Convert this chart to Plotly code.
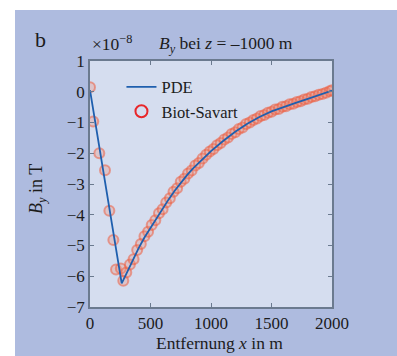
import plotly.graph_objects as go

# ---- data (B_y in units of 1e-8 T) ----
x_pde = [0, 262, 300, 350, 400, 450, 500, 550, 600, 650, 700, 750, 800, 850, 900,
         1000, 1100, 1200, 1300, 1400, 1500, 1600, 1700, 1800, 1900, 2000]
by_pde = [0.05, -6.23, -5.92, -5.5, -5.1, -4.74, -4.42, -4.1, -3.8, -3.5, -3.22, -2.96,
          -2.72, -2.5, -2.3, -1.93, -1.6, -1.3, -1.04, -0.82, -0.64, -0.49, -0.36,
          -0.23, -0.1, 0.04]

x_bs = [0, 27, 77, 124, 160, 193, 215, 255, 275,
        300, 330, 360, 390, 420, 450, 480, 510, 540, 570, 600, 630, 660, 690, 720,
        750, 780, 810, 840, 870, 900, 930, 960, 990, 1020, 1050, 1080, 1110, 1140,
        1170, 1200, 1230, 1260, 1290, 1320, 1350, 1380, 1410, 1440, 1470, 1500,
        1530, 1560, 1590, 1620, 1650, 1680, 1710, 1740, 1770, 1800, 1830, 1860,
        1890, 1920, 1950, 1980, 2000]
by_bs = [0.15, -0.97, -2.0, -2.55, -3.87, -4.82, -5.78, -5.75, -6.15,
         -5.88, -5.62, -5.45, -5.15, -4.95, -4.70, -4.55, -4.33, -4.18, -3.95, -3.82,
         -3.60, -3.46, -3.25, -3.14, -2.93, -2.83, -2.66, -2.56, -2.40, -2.32, -2.17,
         -2.05, -1.94, -1.86, -1.74, -1.67, -1.55, -1.49, -1.37, -1.32, -1.21, -1.16,
         -1.05, -1.00, -0.92, -0.87, -0.79, -0.76, -0.68, -0.65, -0.58, -0.56, -0.49,
         -0.47, -0.41, -0.39, -0.33, -0.31, -0.25, -0.23, -0.17, -0.15, -0.10, -0.07,
         -0.03, 0.02, 0.05]

x_ticks = [0, 500, 1000, 1500, 2000]
y_ticks = [1, 0, -1, -2, -3, -4, -5, -6, -7]

# ---- layout geometry ----
W, H = 397, 356
L, R, T, B = 90, 65, 61, 49
pw, ph = W - L - R, H - T - B

OUTER = "rgb(174,187,223)"
INNER = "rgb(213,221,239)"
AXC = "#6b7a8f"
TXT = "#1c1c1c"
FONT = "Liberation Serif"

fig = go.Figure()

fig.add_trace(go.Scatter(
    x=x_bs, y=by_bs, mode="markers", showlegend=False,
    marker=dict(symbol="circle", size=10, color="rgba(240,140,115,0.3)",
                line=dict(width=2, color="rgba(236,95,65,0.55)")),
))
fig.add_trace(go.Scatter(
    x=x_pde, y=by_pde, mode="lines", name="PDE",
    line=dict(color="#1f5fae", width=1.8),
))
fig.add_trace(go.Scatter(
    x=[None], y=[None], mode="markers", name="Biot-Savart",
    marker=dict(symbol="circle-open", size=12, color="#e8262a", line=dict(width=2)),
))

# background panel (white strip at top/left)
fig.add_shape(type="rect", xref="paper", yref="paper", layer="below",
              x0=(15 - L) / pw, x1=(W - L) / pw + 0.05,
              y0=-(H - T - ph) / ph - 0.05, y1=(T + ph - 10) / ph,
              fillcolor=OUTER, line=dict(width=0))
fig.add_shape(type="rect", xref="paper", yref="paper", layer="below",
              x0=0, x1=1, y0=0, y1=1, fillcolor=INNER, line=dict(width=0))

axis_common = dict(
    showgrid=False, zeroline=False, showline=True, linecolor=AXC, linewidth=1.5,
    mirror="allticks", ticks="inside", ticklen=4, tickcolor=AXC, tickwidth=1.2,
    tickfont=dict(family=FONT, size=17, color=TXT),
)

fig.update_layout(
    width=W, height=H,
    margin=dict(l=L, r=R, t=T, b=B),
    paper_bgcolor="white", plot_bgcolor=INNER,
    font=dict(family=FONT, color=TXT),
    xaxis=dict(range=[0, 2000], tickvals=x_ticks, **axis_common),
    yaxis=dict(range=[-7, 1], tickvals=y_ticks, **axis_common),
    legend=dict(x=0.13, y=0.965, xanchor="left", yanchor="top",
                bgcolor="rgba(0,0,0,0)", font=dict(family=FONT, size=16.5, color=TXT),
                itemwidth=30, tracegroupgap=0),
    showlegend=True,
)

def py(pix):
    return (T + ph - pix) / ph

def px(pix):
    return (pix - L) / pw

fig.add_annotation(text="b", xref="paper", yref="paper", x=px(33), y=py(40),
                   xanchor="left", yanchor="middle", showarrow=False,
                   font=dict(family=FONT, size=22, color=TXT))
fig.add_annotation(text="×10<sup>−8</sup>", xref="paper", yref="paper", x=px(90), y=py(43),
                   xanchor="left", yanchor="middle", showarrow=False,
                   font=dict(family=FONT, size=17.5, color=TXT))
fig.add_annotation(text="<i>B</i><sub><i>y</i></sub> bei <i>z</i> = –1000 m",
                   xref="paper", yref="paper", x=px(157), y=py(44),
                   xanchor="left", yanchor="middle", showarrow=False,
                   font=dict(family=FONT, size=17.5, color=TXT))
fig.add_annotation(text="<i>B</i><sub><i>y</i></sub> in T", textangle=-90,
                   xref="paper", yref="paper", x=px(37), y=py(189),
                   xanchor="center", yanchor="middle", showarrow=False,
                   font=dict(family=FONT, size=18, color=TXT))
fig.add_annotation(text="Entfernung <i>x</i> in m",
                   xref="paper", yref="paper", x=px(219), y=py(343),
                   xanchor="center", yanchor="middle", showarrow=False,
                   font=dict(family=FONT, size=17.5, color=TXT))

fig.write_html("out.html", config={"displayModeBar": False},
               post_script="document.body.style.margin='0';document.body.style.overflow='hidden';")
